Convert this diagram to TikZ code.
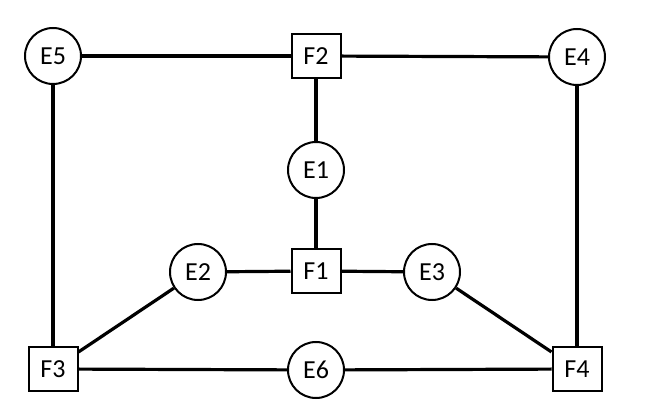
\documentclass[tikz,border=0pt]{standalone}
\usepackage{fontspec}
\setmainfont{Carlito}
\tikzset{
  enode/.style = {draw, circle, line width=2pt, minimum size=56pt, inner sep=0pt, font=\fontsize{26}{26}\selectfont},
  fnode/.style = {draw, rectangle, line width=2pt, minimum width=49pt, minimum height=44pt, inner sep=0pt, font=\fontsize{26}{26}\selectfont},
  link/.style  = {line width=3.2pt}
}
\begin{document}
\begin{tikzpicture}[x=1pt,y=-1pt]
\useasboundingbox (0,0) rectangle (645,411);
% upper row
\node[enode] (E5) at (53,56)  {E5};
\node[fnode] (F2) at (316,56) {F2};
\node[enode] (E4) at (577,57) {E4};
% middle
\node[enode] (E1) at (316,170) {E1};
\node[fnode] (F1) at (316,271) {F1};
\node[enode] (E2) at (198,272) {E2};
\node[enode] (E3) at (432,272) {E3};
% lower row
\node[fnode] (F3) at (53,369)  {F3};
\node[enode] (E6) at (316,370) {E6};
\node[fnode] (F4) at (577,369) {F4};
% connectors
\draw[link] (E5) -- (F2);
\draw[link] (F2) -- (E4);
\draw[link] (E5) -- (F3);
\draw[link] (E4) -- (F4);
\draw[link] (F2) -- (E1);
\draw[link] (E1) -- (F1);
\draw[link] (E2) -- (F1);
\draw[link] (F1) -- (E3);
\draw[link] (E2) -- (F3);
\draw[link] (E3) -- (F4);
\draw[link] (F3) -- (E6);
\draw[link] (E6) -- (F4);
\end{tikzpicture}
\end{document}
